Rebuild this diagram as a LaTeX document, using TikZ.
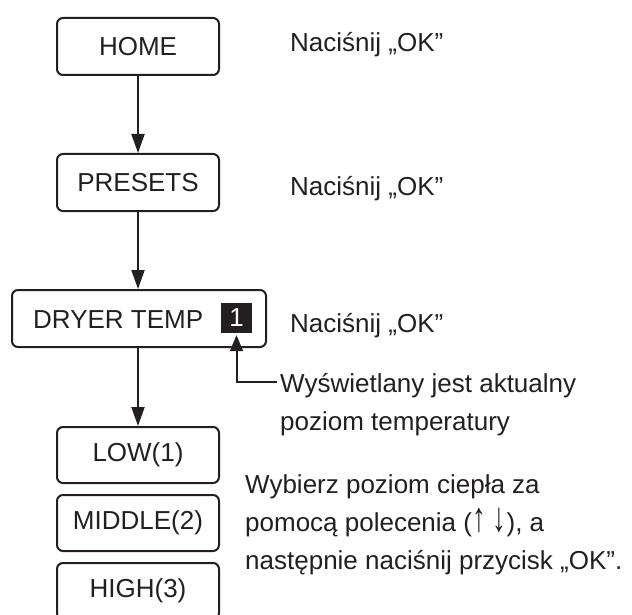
\documentclass[tikz,border=0pt]{standalone}
\usepackage{fontspec}
\setmainfont{Liberation Sans}
\usetikzlibrary{arrows.meta}
\definecolor{ink}{HTML}{231F20}
\newcommand{\tallarrow}[1]{\scalebox{1.05}[1.6]{#1}}
\tikzset{
  txt/.style={inner sep=0pt, text=ink, font=\fontsize{26}{31}\selectfont},
  box/.style={draw=ink, line width=2pt, rounded corners=6pt, minimum width=162pt, minimum height=57pt, inner sep=0pt, text=ink, font=\fontsize{26}{31}\selectfont},
  flow/.style={draw=ink, line width=2pt, -{Triangle[length=19pt,width=13pt]}},
  callout/.style={draw=ink, line width=2pt, -{Triangle[length=16pt,width=13pt]}},
}
\begin{document}
\begin{tikzpicture}[x=1pt,y=-1pt]
\useasboundingbox (0,0) rectangle (632,615);
\clip (0,0) rectangle (632,615);
% boxes
\node[box] (home) at (138,46.5) {HOME};
\node[box] (presets) at (138,182.5) {PRESETS};
\node[box, minimum width=254pt] (dryer) at (139,318.5) {};
\node[txt, anchor=base west] (dryertxt) at (33,328) {DRYER TEMP};
\node[fill=ink, minimum width=31pt, minimum height=30pt, inner sep=0pt, text=white, font=\fontsize{26}{31}\selectfont] (sq) at (236.5,318) {1};
\node[box, minimum height=56pt] (low) at (138,455) {LOW(1)};
\node[box, minimum height=56pt] (middle) at (138,523) {MIDDLE(2)};
\node[box, minimum height=56pt] (high) at (138,591) {HIGH(3)};
% instructions
\node[txt, anchor=base west] (ok1) at (290,52) {Naciśnij „OK”};
\node[txt, anchor=base west] (ok2) at (290,195) {Naciśnij „OK”};
\node[txt, anchor=base west] (ok3) at (290,332) {Naciśnij „OK”};
\node[txt, anchor=base west] (wys1) at (280,392) {Wyświetlany jest aktualny};
\node[txt, anchor=base west] (wys2) at (280,430) {poziom temperatury};
\node[txt, anchor=base west] (wyb1) at (245,493) {Wybierz poziom ciepła za};
\node[txt, anchor=base west] (wyb2) at (245,531) {pomocą polecenia (\tallarrow{↑} \tallarrow{↓}), a};
\node[txt, anchor=base west] (wyb3) at (245,569) {następnie naciśnij przycisk „OK”.};
% connectors
\draw[flow] (home.south) -- (presets.north);
\draw[flow] (presets.south) -- (dryer.north -| presets.south);
\draw[flow] (dryer.south -| low.north) -- (low.north);
\coordinate (cstart) at ([shift={(-3pt,10pt)}]wys1.base west);
\draw[callout] (cstart) -| ([yshift=-2pt]sq.south);
\end{tikzpicture}
\end{document}
